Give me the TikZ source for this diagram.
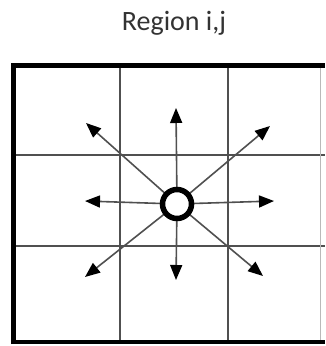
\documentclass[tikz,border=0pt]{standalone}
\usepackage{fontspec}
\setmainfont{Carlito}
\usetikzlibrary{arrows.meta}
\definecolor{gridgray}{HTML}{505050}
\tikzset{
  gridline/.style={draw=gridgray, line width=1.8pt},
  frameline/.style={draw=black, line width=5pt},
  flow/.style={draw=gridgray, line width=1.6pt, -{Triangle[length=15pt,width=12pt,fill=black,color=black]}},
  ring/.style={circle, draw=black, fill=white, line width=5.5pt, minimum size=29pt, inner sep=0pt}
}
\begin{document}
\begin{tikzpicture}[x=1pt,y=-1pt]
\useasboundingbox (0,0) rectangle (325,346);
\fill[white] (0,0) rectangle (325,346);
\node[font=\fontsize{28}{32}\selectfont, text=black!80, inner sep=0pt] (title) at (174,23) {Region i,j};
% grid
\draw[gridline] (120,66) -- (120,342);
\draw[gridline] (228,66) -- (228,342);
\draw[gridline] (14,155) -- (325,155);
\draw[gridline] (14,246) -- (325,246);
\draw[draw=gridgray!40, line width=1pt] (320,66) -- (320,342);
% frame
\draw[frameline] (13,344) -- (13,65.5) -- (325,65.5);
\draw[draw=black, line width=4pt] (11,342) -- (325,342);
% arrow tips
\coordinate (tu) at (176,108);
\coordinate (td) at (176,280);
\coordinate (tl) at (85,201);
\coordinate (tr) at (274,201);
\coordinate (tul) at (86,123);
\coordinate (tur) at (270,126);
\coordinate (tll) at (85,277);
\coordinate (tlr) at (263,276);
\coordinate (c0) at (177,204);
\foreach \t in {tu,td,tl,tr,tul,tur,tll,tlr} \draw[flow] (c0) -- (\t);
\node[ring] (c) at (c0) {};
\end{tikzpicture}
\end{document}
